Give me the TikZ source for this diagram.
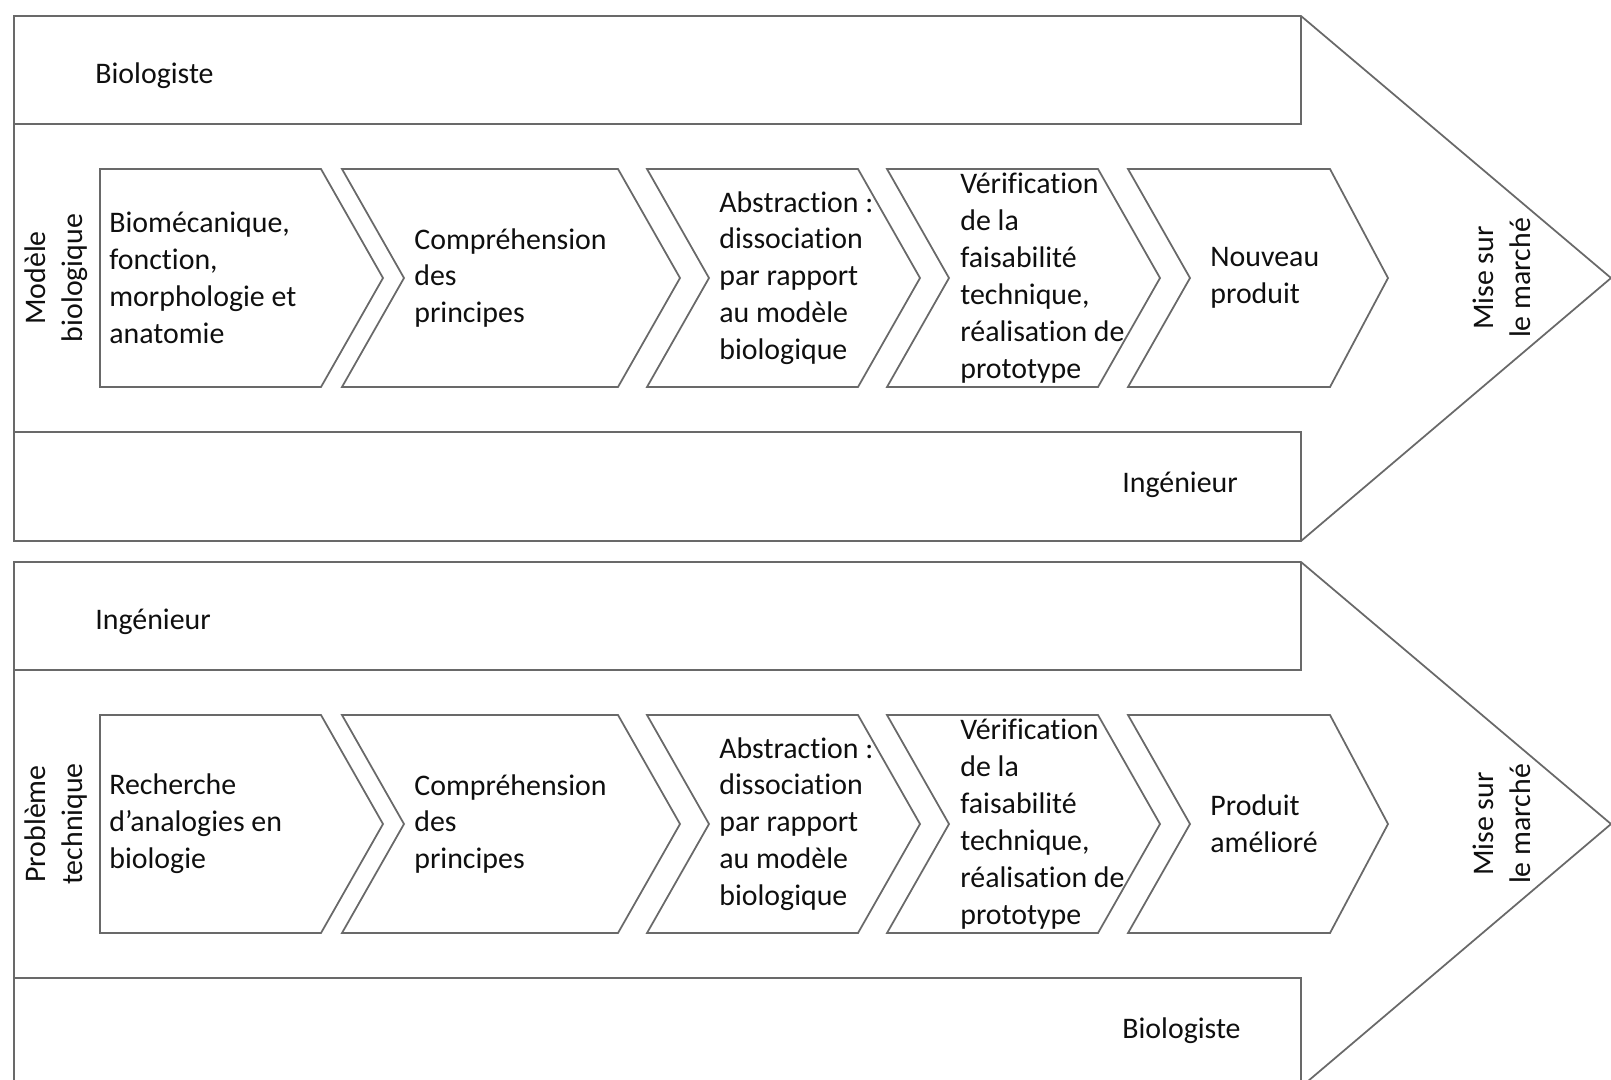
\documentclass[tikz,border=0pt]{standalone}
\usepackage{fontspec}
\setmainfont{Carlito}[Ligatures=NoCommon]
\usetikzlibrary{positioning}
\definecolor{FrameGray}{RGB}{105,105,105}
\definecolor{InkBlack}{RGB}{15,15,15}

\begin{document}
\begin{tikzpicture}[x=0.02cm,y=-0.02cm,
    frame/.style={draw=FrameGray,line width=1pt},
    txt/.style={font=\fontsize{17}{21}\selectfont,text=InkBlack,inner sep=0pt},
    steptxt/.style={txt,align=left,anchor=west},
    sidetxt/.style={txt,align=center,rotate=90}]
  \useasboundingbox (0,0) rectangle (1611,1079);
  \clip (0,0) rectangle (1611,1079);
  \foreach \s/\off/\roleA/\roleB/\side/\first/\last in {
      top/0/Biologiste/Ingénieur/{Modèle\\biologique}/{Biomécanique,\\fonction,\\morphologie et\\anatomie}/{Nouveau\\produit},
      bot/546/Ingénieur/Biologiste/{Problème\\technique}/{Recherche\\d’analogies en\\biologie}/{Produit\\amélioré}}{
    \begin{scope}[shift={(0,\off)}]
      % big arrow with the two role bands
      \draw[frame] (14,16) -- (1301,16) -- (1611,278) -- (1301,541) -- (14,541) -- cycle;
      \draw[frame] (14,124) -- (1301,124) -- (1301,16);
      \draw[frame] (14,432) -- (1301,432) -- (1301,541);
      \node[txt,anchor=west] (\s-roleA) at (95,76) {\roleA};
      \node[txt,anchor=west] (\s-roleB) at (1122,485) {\roleB};
      \node[sidetxt] (\s-side) at (56,278) {\side};
      \node[sidetxt] (\s-market) at (1502,278) {Mise sur\\le marché};
      % chevrons
      \draw[frame] (100,169) -- (321,169) -- (383,278) -- (321,387) -- (100,387) -- cycle;
      \foreach \l/\r/\d in {342/618/62,647/858/62,887/1098/62,1128/1330/58}
        \draw[frame] (\l,169) -- (\r,169) -- (\r+\d,278) -- (\r,387)
          -- (\l,387) -- (\l+62,278) -- cycle;
      \node[steptxt] (\s-step1) at (109,278) {\first};
      \node[steptxt] (\s-step2) at (414,278) {Compréhension\\des\\principes};
      \node[steptxt] (\s-step3) at (719,278) {Abstraction :\\dissociation\\par rapport\\au modèle\\biologique};
      \node[steptxt] (\s-step4) at (960,278) {Vérification\\de la\\faisabilité\\technique,\\réalisation de\\prototype};
      \node[steptxt] (\s-step5) at (1210,278) {\last};
    \end{scope}}
\end{tikzpicture}
\end{document}
